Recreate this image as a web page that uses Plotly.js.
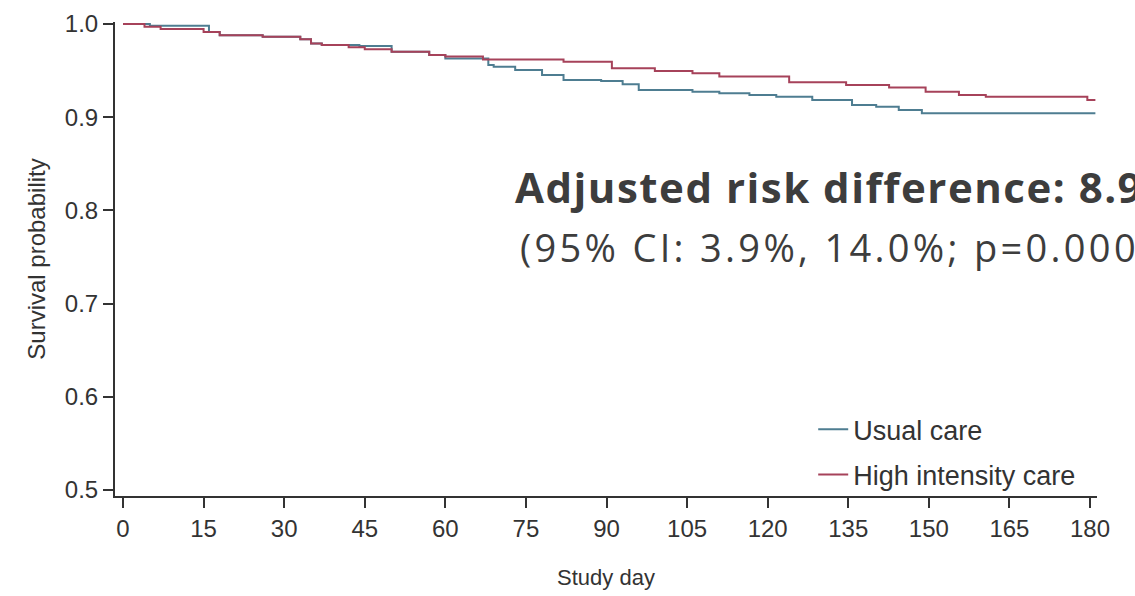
<!DOCTYPE html>
<html>
<head>
<meta charset="utf-8">
<script src="https://cdn.plot.ly/plotly-3.0.1.min.js"></script>
<style>
  html, body { margin: 0; padding: 0; background: #ffffff; }
  #chart { width: 1135px; height: 596px; }
  g.annotation[data-index="0"] .annotation-text { letter-spacing: 1.5px; }
  g.annotation[data-index="1"] .annotation-text { letter-spacing: 3.3px; }
</style>
</head>
<body>
<div id="chart"></div>
<script>
// ---- data ----
const seriesNames = ["Usual care", "High intensity care"];

const daysUsual = [0, 5, 16, 18, 26, 33, 35, 37, 44, 50, 57, 60, 68, 69, 73, 78, 82, 89, 93, 96, 106, 111, 116.6, 121.6, 128.3, 135.7, 140.2, 144.4, 148.7, 181];
const survUsual = [1.0, 0.998, 0.9915, 0.988, 0.9864, 0.9836, 0.979, 0.9775, 0.9764, 0.9703, 0.9667, 0.963, 0.956, 0.954, 0.9506, 0.9453, 0.94, 0.9388, 0.9353, 0.9292, 0.9274, 0.9256, 0.9238, 0.922, 0.9185, 0.9131, 0.9113, 0.9077, 0.9042, 0.9042];

const daysHigh = [0, 4, 7, 15, 18, 26, 33, 35, 37, 42, 45, 50, 57, 60, 67, 82, 91, 99, 106, 111, 124, 134.6, 142.6, 149.4, 155.6, 160.6, 179.5, 181];
const survHigh = [1.0, 0.997, 0.9945, 0.9915, 0.988, 0.9864, 0.9836, 0.979, 0.9775, 0.975, 0.9728, 0.9703, 0.9667, 0.965, 0.962, 0.9595, 0.9525, 0.9496, 0.947, 0.9435, 0.9374, 0.9345, 0.9317, 0.9274, 0.9238, 0.922, 0.9185, 0.9185];

const xTicks = [0, 15, 30, 45, 60, 75, 90, 105, 120, 135, 150, 165, 180];
const yTicks = [0.5, 0.6, 0.7, 0.8, 0.9, 1.0];

const annotationLine1 = "Adjusted risk difference: 8.9%";
const annotationLine2 = "(95% CI: 3.9%, 14.0%; p=0.0004)";

// ---- styles ----
const colUsual = "#4e7d91";
const colHigh = "#a6425a";
const axisCol = "#333333";
const sansFam = "Liberation Sans, Arial, sans-serif";
const tickFont = { family: sansFam, size: 24, color: "#333333" };

const traces = [
  { x: daysUsual, y: survUsual, name: seriesNames[0], type: "scatter", mode: "lines",
    line: { shape: "hv", color: colUsual, width: 2 }, legendgroup: "a" },
  { x: daysHigh, y: survHigh, name: seriesNames[1], type: "scatter", mode: "lines",
    line: { shape: "hv", color: colHigh, width: 2 }, legendgroup: "b" }
];

const layout = {
  width: 1135, height: 596,
  margin: { l: 115, r: 38, t: 22, b: 100, pad: 0 },
  paper_bgcolor: "#ffffff", plot_bgcolor: "#ffffff",
  showlegend: true,
  legend: {
    x: 0.711, y: 0.1915, xanchor: "left", yanchor: "top",
    bgcolor: "rgba(0,0,0,0)", borderwidth: 0,
    font: { family: sansFam, size: 27, color: "#333333" },
    tracegroupgap: 7, traceorder: "grouped"
  },
  xaxis: {
    range: [-1.49, 181.3], tickvals: xTicks, ticktext: xTicks.map(String),
    showline: true, linewidth: 2, linecolor: axisCol, mirror: false,
    ticks: "outside", ticklen: 10, tickwidth: 2, tickcolor: axisCol,
    showgrid: false, zeroline: false, tickfont: tickFont, automargin: false,
    title: { text: "Study day", font: { family: sansFam, size: 22, color: "#333333" }, standoff: 29 }
  },
  yaxis: {
    range: [0.4936, 1.0021], tickvals: yTicks, ticktext: yTicks.map(v => v.toFixed(1)),
    showline: true, linewidth: 2, linecolor: axisCol, mirror: false,
    ticks: "outside", ticklen: 10, tickwidth: 2, tickcolor: axisCol,
    showgrid: false, zeroline: false, tickfont: tickFont, automargin: false,
    title: { text: "Survival probability", font: { family: sansFam, size: 24, color: "#333333" }, standoff: 12 }
  },
  annotations: [
    { xref: "paper", yref: "paper", x: 0.4053, y: 0.654, xanchor: "left", yanchor: "middle",
      text: "<b>" + annotationLine1 + "</b>", showarrow: false, align: "left",
      font: { family: "Open Sans, sans-serif", size: 42, color: "#3d3d3d" } },
    { xref: "paper", yref: "paper", x: 0.4104, y: 0.525, xanchor: "left", yanchor: "middle",
      text: annotationLine2, showarrow: false, align: "left",
      font: { family: "Open Sans, sans-serif", size: 38, color: "#3d3d3d" } }
  ]
};

Plotly.newPlot("chart", traces, layout, { displayModeBar: false, staticPlot: true });
</script>
</body>
</html>
